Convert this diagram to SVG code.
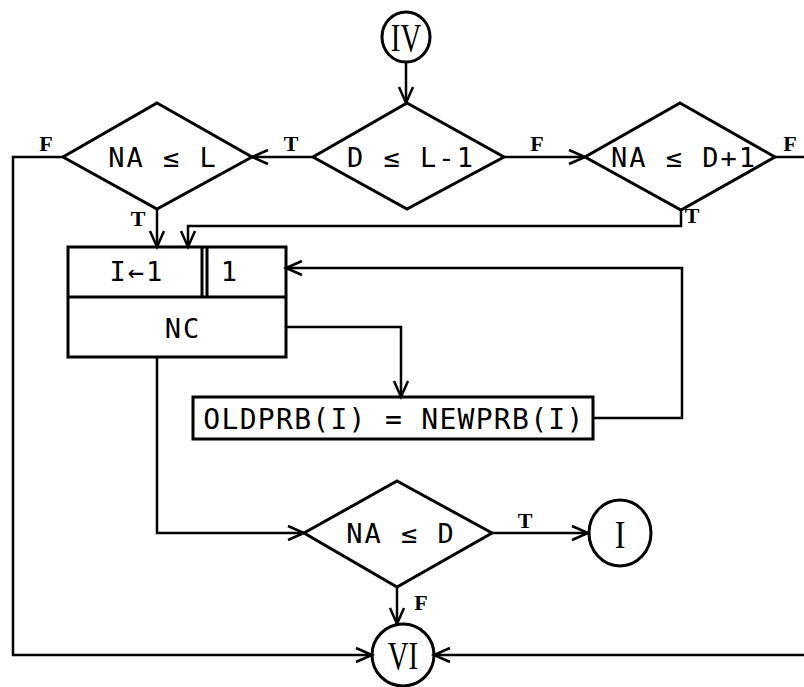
<svg xmlns="http://www.w3.org/2000/svg" width="804" height="687" viewBox="0 0 804 687">
<style>
.shape{fill:none;stroke:#000;stroke-width:3;stroke-linejoin:miter}
.conn{fill:none;stroke:#000;stroke-width:2.5}
.txt{font-family:"DejaVu Sans Mono","Liberation Mono",monospace;font-size:27px;letter-spacing:2px;fill:#000;text-anchor:middle}
.big{font-size:28px;letter-spacing:1.3px}
.lbl{font-family:"Liberation Serif","DejaVu Serif",serif;font-weight:bold;font-size:22px;fill:#000;text-anchor:middle}
.rom{font-family:"Liberation Serif","DejaVu Serif",serif;font-size:40px;fill:#000;text-anchor:middle}
</style>
<defs>
<marker id="arr" markerUnits="userSpaceOnUse" markerWidth="20" markerHeight="20" viewBox="-18 -10 20 20" refX="0" refY="0" orient="auto" overflow="visible">
<path d="M-16,-7 L0,0 L-16,7" fill="none" stroke="#000" stroke-width="2.5"/>
</marker>
</defs>
<g id="connectors">
<path class="conn" d="M406,62 L406,103" marker-end="url(#arr)"/>
<path class="conn" d="M313,157 L252,157" marker-end="url(#arr)"/>
<path class="conn" d="M504,157 L585,157" marker-end="url(#arr)"/>
<path class="conn" d="M63,157 L13,157 L13,655 L372,655" marker-end="url(#arr)"/>
<path class="conn" d="M775,157 L810,157"/>
<path class="conn" d="M810,655 L434,655" marker-end="url(#arr)"/>
<path class="conn" d="M157,208 L157,247" marker-end="url(#arr)"/>
<path class="conn" d="M681,210 L681,226 L188,226 L188,247" marker-end="url(#arr)"/>
<path class="conn" d="M593,418 L682,418 L682,268 L286,268" marker-end="url(#arr)"/>
<path class="conn" d="M286,327 L401,327 L401,397" marker-end="url(#arr)"/>
<path class="conn" d="M157,357 L157,533 L304,533" marker-end="url(#arr)"/>
<path class="conn" d="M492,533 L588,533" marker-end="url(#arr)"/>
<path class="conn" d="M397,587 L397,624" marker-end="url(#arr)"/>
<text class="lbl" x="291" y="151">T</text>
<text class="lbl" x="537" y="151">F</text>
<text class="lbl" x="46" y="151">F</text>
<text class="lbl" x="790" y="151">F</text>
<text class="lbl" x="138" y="226">T</text>
<text class="lbl" x="692" y="223">T</text>
<text class="lbl" x="525" y="528">T</text>
<text class="lbl" x="421" y="610">F</text>
</g>
<g id="start-IV">
<ellipse class="shape" cx="406" cy="37" rx="24" ry="25"/>
<text class="rom" transform="translate(406,51) scale(0.72,1)">IV</text>
</g>
<g id="dec-D-le-L1">
<polygon class="shape" points="407,103 504,157 407,209 313,157"/>
<text class="txt" x="411" y="167">D ≤ L-1</text>
</g>
<g id="dec-NA-le-L">
<polygon class="shape" points="157,103 252,157 157,209 63,157"/>
<text class="txt" x="163" y="167">NA ≤ L</text>
</g>
<g id="dec-NA-le-D1">
<polygon class="shape" points="680,103 775,157 681,210 585,157"/>
<text class="txt" x="684" y="167">NA ≤ D+1</text>
</g>
<g id="loop-box">
<rect class="shape" x="68" y="247" width="218" height="110"/>
<line class="shape" x1="68" y1="297" x2="286" y2="297"/>
<line class="shape" x1="202" y1="247" x2="202" y2="297" stroke-width="2"/>
<line class="shape" x1="207" y1="247" x2="207" y2="297" stroke-width="2"/>
<text class="txt" x="137" y="281">I←1</text>
<text class="txt" x="230" y="281">1</text>
<text class="txt" x="183" y="338">NC</text>
</g>
<g id="assign">
<rect class="shape" x="193" y="397" width="400" height="42"/>
<text class="txt big" x="394" y="429">OLDPRB(I) = NEWPRB(I)</text>
</g>
<g id="dec-NA-le-D">
<polygon class="shape" points="397,481 492,533 397,587 304,533"/>
<text class="txt" x="401" y="543">NA ≤ D</text>
</g>
<g id="conn-I">
<ellipse class="shape" cx="620" cy="533" rx="31" ry="33"/>
<text class="rom" transform="translate(620,548) scale(0.8,1)">I</text>
</g>
<g id="conn-VI">
<ellipse class="shape" cx="403" cy="655" rx="31" ry="31"/>
<text class="rom" transform="translate(403,669) scale(0.72,1)">VI</text>
</g>
</svg>
